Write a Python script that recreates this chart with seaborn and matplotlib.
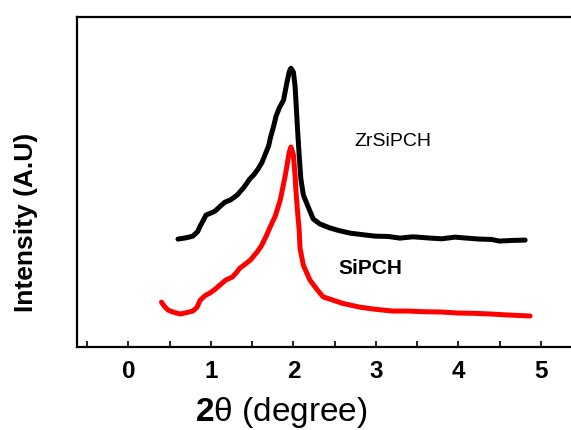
import numpy as np
import pandas as pd
import matplotlib
matplotlib.use("Agg")
import matplotlib.pyplot as plt
import seaborn as sns
from matplotlib.ticker import MultipleLocator

# ---- data ----
zr_x = [0.60, 0.70, 0.78, 0.84, 0.87, 0.91, 0.94, 1.00, 1.05, 1.11, 1.17, 1.24, 1.32, 1.40, 1.47,
        1.52, 1.57, 1.62, 1.66, 1.70, 1.72, 1.76, 1.79, 1.83, 1.88, 1.92, 1.95, 1.97, 2.00, 2.02,
        2.03, 2.05, 2.07, 2.09, 2.12, 2.17, 2.24, 2.32, 2.44, 2.55, 2.69, 2.85, 2.99, 3.15, 3.29,
        3.45, 3.66, 3.80, 3.96, 4.10, 4.26, 4.40, 4.50, 4.65, 4.81]
zr_y = [32.7, 33.1, 33.6, 35.0, 36.7, 38.5, 40.0, 40.6, 41.2, 42.6, 43.9, 44.6, 46.1, 48.4, 50.9,
        52.2, 53.9, 56.0, 58.5, 61.0, 63.3, 66.9, 70.0, 72.5, 74.8, 80.0, 83.5, 84.5, 83.3, 79.0,
        74.8, 66.0, 58.0, 51.0, 46.1, 43.0, 38.8, 37.3, 36.1, 35.3, 34.5, 34.0, 33.6, 33.5, 33.0,
        33.4, 33.0, 32.8, 33.3, 33.0, 32.7, 32.6, 32.1, 32.3, 32.4]

si_x = [0.40, 0.44, 0.48, 0.55, 0.63, 0.70, 0.78, 0.83, 0.87, 0.93, 0.99, 1.05, 1.11, 1.18, 1.26,
        1.31, 1.35, 1.41, 1.48, 1.52, 1.56, 1.61, 1.67, 1.72, 1.78, 1.84, 1.90, 1.95, 1.97, 2.00,
        2.02, 2.03, 2.05, 2.07, 2.08, 2.12, 2.20, 2.29, 2.36, 2.48, 2.60, 2.80, 2.97, 3.20, 3.40,
        3.57, 3.80, 3.99, 4.20, 4.39, 4.60, 4.87]
si_y = [13.6, 12.2, 11.2, 10.5, 10.0, 10.4, 10.9, 12.0, 14.2, 15.6, 16.4, 17.5, 18.8, 20.3, 21.2,
        22.6, 23.9, 25.0, 26.4, 27.6, 28.8, 30.6, 33.6, 36.5, 39.7, 44.5, 51.8, 59.1, 60.6, 58.2,
        52.0, 47.6, 41.0, 35.5, 30.0, 24.8, 20.3, 17.3, 15.2, 14.2, 13.2, 12.1, 11.5, 10.9, 10.9,
        10.7, 10.6, 10.3, 10.2, 10.0, 9.7, 9.4]

series_names = ["ZrSiPCH", "SiPCH"]
x_ticks = [0, 1, 2, 3, 4, 5]

df = pd.concat([
    pd.DataFrame({"x": zr_x, "y": zr_y, "sample": series_names[0]}),
    pd.DataFrame({"x": si_x, "y": si_y, "sample": series_names[1]}),
], ignore_index=True)

sns.set_style("ticks")
plt.rcParams["font.family"] = ["Liberation Sans", "DejaVu Sans"]
plt.rcParams["mathtext.fontset"] = "custom"
plt.rcParams["mathtext.rm"] = "Liberation Sans"
plt.rcParams["mathtext.bf"] = "Liberation Sans:bold"
plt.rcParams["text.color"] = "black"
plt.rcParams["axes.labelcolor"] = "black"
plt.rcParams["xtick.color"] = "black"
plt.rcParams["axes.edgecolor"] = "black"

fig = plt.figure(figsize=(5.71, 4.30), dpi=100)
ax = fig.add_axes([0.134, 0.193, 0.876, 0.7674])

sns.lineplot(data=df, x="x", y="y", hue="sample",
             palette={"ZrSiPCH": "#000000", "SiPCH": "#ff0000"},
             linewidth=3.6, legend=False, ax=ax, sort=False,
             estimator=None)

ax.set_xlim(-0.63, 5.435)
ax.set_ylim(0, 100)
ax.xaxis.set_major_locator(MultipleLocator(1))
ax.xaxis.set_minor_locator(MultipleLocator(0.5))
ax.set_xticks(x_ticks)
ax.set_xticklabels([str(t) for t in x_ticks], fontsize=17.5, fontweight="bold")
ax.tick_params(axis="x", which="both", direction="in", length=4, width=1.2, pad=9,
               colors="black")
ax.set_yticks([])

for side in ["left", "top", "bottom", "right"]:
    ax.spines[side].set_linewidth(1.6)
    ax.spines[side].set_color("black")
    ax.spines[side].set_visible(True)

ax.set_ylabel("Intensity (A.U)", fontsize=19, fontweight="bold", va="center", color="black")
ax.yaxis.set_label_coords(-0.101, 0.379)
ax.set_xlabel(r"$\mathbf{2}$θ (degree)", fontsize=24, va="center", color="black")
ax.xaxis.set_label_coords(0.409, -0.197)

ax.text(3.2, 62.4, "ZrSiPCH", fontsize=14, ha="center", va="center", color="black")
ax.text(2.93, 23.9, "SiPCH", fontsize=15, fontweight="bold", ha="center", va="center",
        color="black")

fig.savefig("out.png", dpi=100)
